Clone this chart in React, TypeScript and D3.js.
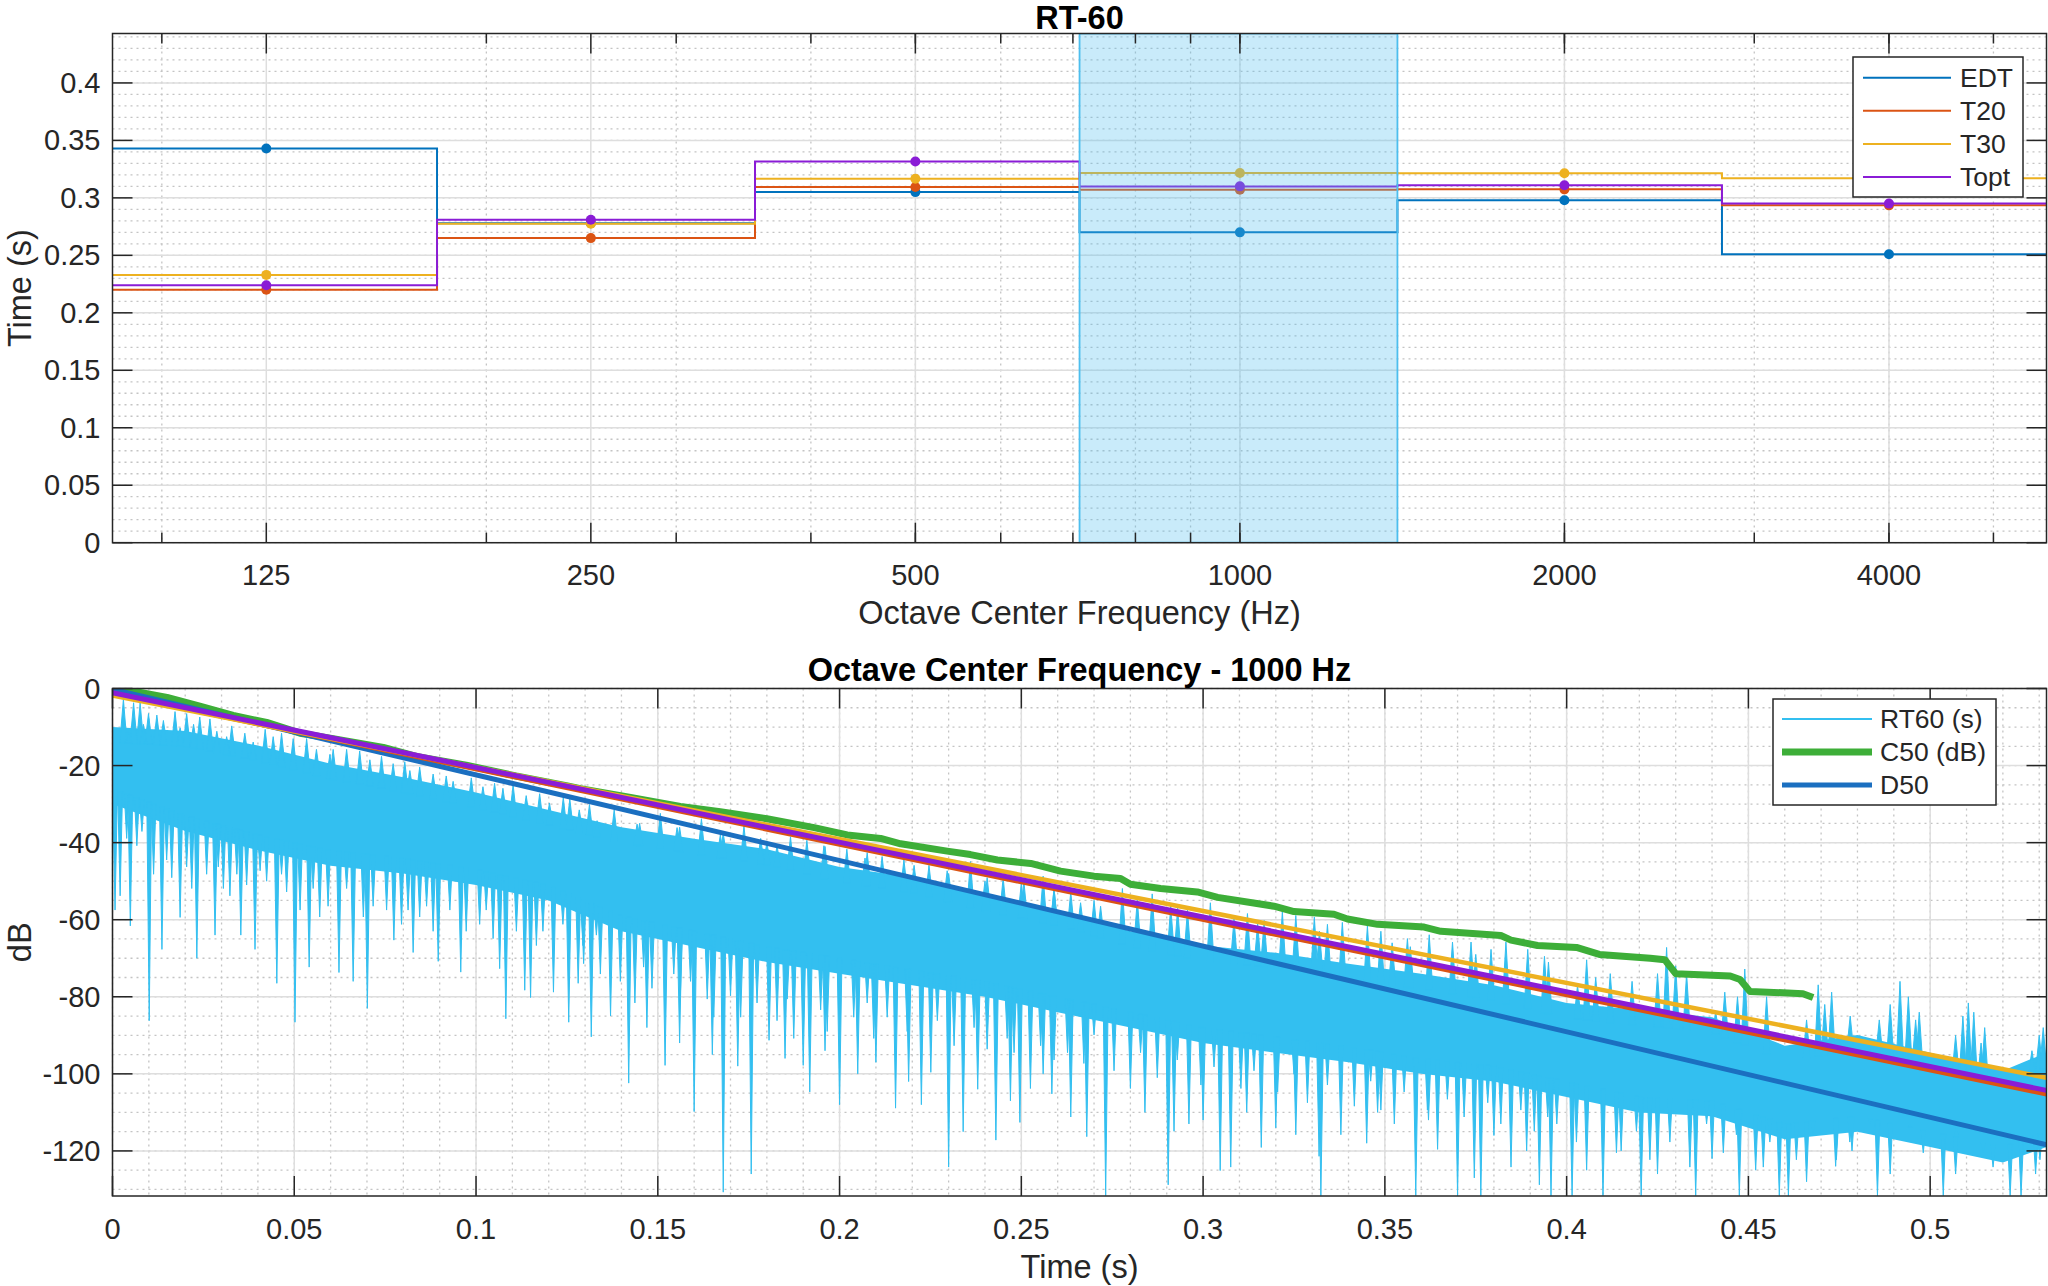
import * as d3 from 'd3';

const WIDTH = 2048;
const HEIGHT = 1286;
const FONT = '"Liberation Sans", Arial, Helvetica, sans-serif';
const INK = '#262626';
const GRID = '#dedede';
const MINOR = '#c4c4c4';

// ---- RT-60 per octave band (top chart)
const bandCenters = [125, 250, 500, 1000, 2000, 4000];
const bandEdges = [90, 180, 355, 710, 1400, 2800, 5600];
const bandLabels = ['125', '250', '500', '1000', '2000', '4000'];
const edtValues = [0.343, 0.278, 0.305, 0.27, 0.298, 0.251];
const t20Values = [0.22, 0.265, 0.3095, 0.307, 0.3074, 0.2935];
const t30Values = [0.233, 0.2775, 0.3167, 0.3217, 0.3214, 0.317];
const toptValues = [0.224, 0.281, 0.3316, 0.31, 0.311, 0.295];
const selectedBandIndex = 3; // 1000 Hz
const rtTicks = [0, 0.05, 0.1, 0.15, 0.2, 0.25, 0.3, 0.35, 0.4];
const freqMinor = [100, 200, 300, 400, 500, 600, 700, 800, 900, 1000, 2000, 3000, 4000, 5000];

// ---- Decay at 1000 Hz (bottom chart)
const timeTicks = [0, 0.05, 0.1, 0.15, 0.2, 0.25, 0.3, 0.35, 0.4, 0.45, 0.5];
const dbTicks = [0, -20, -40, -60, -80, -100, -120];

// dense part of the energy trace
const noiseEnvT = [0, 0.02, 0.04, 0.06, 0.08, 0.1, 0.12, 0.14, 0.16, 0.18, 0.2, 0.22, 0.24, 0.26, 0.28, 0.3, 0.32, 0.34, 0.36, 0.38, 0.4, 0.42, 0.44, 0.46, 0.48, 0.5, 0.52, 0.532];
const noiseTop = [-10, -11, -14.8, -19.5, -23, -27, -31.5, -36, -39, -41.7, -46.3, -49, -53.8, -57.5, -63, -66.7, -68.6, -71.4, -74, -77, -81.6, -83.4, -85.3, -92.7, -89.9, -94.5, -99.2, -94.5];
const noiseBottom = [-30, -37, -42, -46, -48, -51, -55, -63, -67, -71, -74, -77, -80, -84, -88, -92, -94.5, -97, -100, -102, -106, -110, -111, -117, -115, -119, -123, -119];

// upward spikes of the trace [t, dB]
const noisePeaks: [number, number][] = [
  [0.003, -2.8], [0.0058, -3.7], [0.0076, -3.7], [0.0099, -6.5], [0.0122, -6.9], [0.0172, -6], [0.0204, -6.5],
  [0.024, -7.4], [0.0268, -7.9], [0.0328, -9.7], [0.0364, -11.6], [0.042, -10.6], [0.0465, -11.6], [0.0534, -13],
  [0.0607, -15.8], [0.068, -16.2], [0.074, -17.6], [0.0804, -19], [0.0845, -20.4], [0.0918, -22.7], [0.0987, -23.2],
  [0.1051, -24.6], [0.1102, -25], [0.1175, -27.3], [0.124, -28.3], [0.1258, -28.7], [0.1312, -30.1], [0.138, -31.5],
  [0.145, -35], [0.1507, -32.4], [0.156, -36], [0.162, -33.8], [0.168, -37.5], [0.1737, -35.7], [0.18, -40],
  [0.1865, -38.5], [0.191, -39.4], [0.196, -41], [0.202, -41.7], [0.207, -44], [0.2117, -43.6], [0.2177, -44.5],
  [0.2246, -45.9], [0.23, -48], [0.236, -44.9], [0.24, -50], [0.245, -49.1], [0.25, -50.5], [0.256, -48.7],
  [0.259, -52], [0.2636, -52.8], [0.27, -55], [0.2778, -51.9], [0.286, -53.3], [0.293, -57], [0.302, -55.6],
  [0.3085, -59.8], [0.315, -61], [0.3218, -57.9], [0.3255, -58.9], [0.332, -63], [0.3383, -60.7], [0.3452, -61.6],
  [0.352, -66], [0.357, -67], [0.3622, -63.9], [0.3686, -65.8], [0.375, -69], [0.3833, -65.8], [0.3893, -67.7],
  [0.395, -71], [0.403, -77], [0.4055, -70.4], [0.408, -75], [0.412, -74], [0.418, -76], [0.425, -74], [0.4275, -67.2],
  [0.43, -72], [0.433, -74], [0.441, -84], [0.4435, -78.8], [0.447, -80], [0.449, -72.8], [0.455, -80], [0.466, -86],
  [0.4692, -76.9], [0.471, -82], [0.4729, -78.8], [0.478, -85], [0.486, -86], [0.489, -82], [0.4917, -76], [0.494, -80],
  [0.496, -86], [0.497, -84], [0.507, -90], [0.509, -85], [0.5105, -81.6], [0.512, -84], [0.514, -92], [0.515, -88],
  [0.528, -94], [0.53, -90], [0.5311, -88],
  [0.0044, -11.1], [0.0085, -9.3], [0.014, -8.3], [0.0186, -10.2], [0.0223, -9.3], [0.0287, -11.1], [0.0314, -12.5],
  [0.0387, -13.9], [0.0442, -12.5], [0.0497, -13], [0.0561, -15.8], [0.0598, -17.1], [0.0644, -15.8], [0.0708, -18.5],
  [0.0772, -19.5], [0.0818, -21.3], [0.0882, -22.2], [0.0937, -24.1], [0.1019, -25.5], [0.1074, -25.9], [0.1138, -27.8],
  [0.1202, -29.7], [0.1284, -31.5], [0.1333, -34.3], [0.1443, -35.2], [0.1553, -36.1], [0.1672, -38], [0.1783, -38.9],
  [0.1828, -40.8], [0.1957, -40.8], [0.2076, -42.6], [0.2205, -45.9], [0.2296, -47.3], [0.2406, -49.1], [0.2507, -50],
  [0.259, -51.9], [0.2663, -55.6], [0.2718, -56.5], [0.2819, -54.7], [0.2911, -56.5], [0.2957, -57.5], [0.3122, -58.4],
  [0.3168, -60.2], [0.3306, -59.3], [0.3342, -61.2], [0.3489, -63], [0.3562, -64.9], [0.3737, -65.8], [0.3792, -67.7],
  [0.3939, -69.5],
];

// downward spikes of the trace [t, dB]
const noiseDips: [number, number][] = [
  [0.0007, -57.5], [0.0049, -61.6], [0.0101, -86.2], [0.0136, -67.7], [0.0186, -59.4], [0.0232, -70], [0.0282, -64],
  [0.0353, -64], [0.0392, -67.7], [0.0452, -76.5], [0.0502, -86.6], [0.0541, -72.3], [0.0623, -73.7], [0.0662, -76],
  [0.0701, -83], [0.0774, -65.3], [0.0827, -68.5], [0.0896, -70.8], [0.0958, -73.6], [0.1065, -72.7], [0.1082, -85.7],
  [0.1134, -78.3], [0.115, -80.2], [0.1213, -78.8], [0.1255, -86.6], [0.1281, -76.5], [0.1317, -90.4], [0.137, -85],
  [0.142, -102.4], [0.1437, -81.6], [0.147, -88], [0.152, -97.8], [0.156, -92], [0.16, -109.8], [0.165, -95],
  [0.168, -130.7], [0.172, -98], [0.1757, -126], [0.1806, -91.3], [0.185, -96], [0.19, -97.8], [0.1918, -104.7],
  [0.196, -94], [0.2, -108], [0.205, -100], [0.21, -97], [0.2154, -108.9], [0.219, -102], [0.2225, -108],
  [0.2251, -99.6], [0.23, -124.2], [0.234, -115], [0.238, -104], [0.243, -117.2], [0.247, -107], [0.2496, -112.6],
  [0.2525, -103.8], [0.256, -100], [0.2584, -105.2], [0.2636, -111.2], [0.268, -116.3], [0.2732, -131.6], [0.28, -103.8],
  [0.284, -110], [0.2904, -128.8], [0.292, -114.9], [0.2961, -113], [0.3, -112], [0.3047, -125.1], [0.3076, -124.2],
  [0.312, -110], [0.316, -119.1], [0.32, -114], [0.3255, -115.8], [0.3319, -121.4], [0.3324, -131.6], [0.3379, -115.8],
  [0.345, -118], [0.348, -110], [0.3526, -113], [0.3585, -131.6], [0.362, -112], [0.3645, -119.6], [0.37, -131.6],
  [0.3746, -127], [0.3764, -131.6], [0.38, -116], [0.3847, -124.2], [0.389, -120], [0.3925, -128.8], [0.3957, -131.6],
  [0.4015, -131.6], [0.4055, -125], [0.41, -131.6], [0.415, -120], [0.4205, -131.6], [0.425, -126], [0.4355, -131.6],
  [0.44, -122], [0.4475, -131.6], [0.452, -125], [0.4585, -131.6], [0.461, -131.6], [0.466, -128], [0.474, -124],
  [0.4785, -120], [0.4855, -131.6], [0.489, -126], [0.5036, -131.6], [0.507, -126], [0.522, -131.6], [0.525, -131.6],
  [0.529, -126],
  [0.0021, -53.8], [0.0039, -38.9], [0.0067, -40.8], [0.0081, -37.1], [0.0113, -48.2], [0.0149, -44.5], [0.0163, -49.1],
  [0.0204, -46.3], [0.0218, -51.9], [0.0259, -48.2], [0.0291, -46.3], [0.0305, -51.9], [0.0323, -53.8], [0.0342, -48.2],
  [0.0369, -51], [0.0406, -47.3], [0.0424, -50], [0.0465, -48.2], [0.0479, -52.8], [0.0516, -57.5], [0.0552, -51.9],
  [0.057, -59.3], [0.0593, -56.5], [0.0644, -51.9], [0.069, -59.3], [0.0717, -56.5], [0.0754, -57.5], [0.0795, -61.2],
  [0.0813, -57.5], [0.0845, -59.3], [0.0864, -56.5], [0.0882, -63], [0.0928, -57.5], [0.0973, -63], [0.101, -61.2],
  [0.1028, -57.5], [0.1047, -64.9], [0.1111, -63], [0.1166, -66.7], [0.1184, -63], [0.1239, -61.2], [0.1294, -66.7],
  [0.1331, -64], [0.1296, -71.4], [0.1342, -74.1], [0.137, -69.5], [0.1397, -76], [0.1461, -72.3], [0.1484, -77.8],
  [0.1544, -74.1], [0.1562, -79.7], [0.159, -76], [0.1636, -80.6], [0.1654, -85.3], [0.17, -79.7], [0.1728, -85.3],
  [0.1773, -81.6], [0.1828, -86.2], [0.1856, -80.6], [0.1874, -90.8], [0.1948, -83.4], [0.1966, -89], [0.2039, -85.3],
  [0.2076, -81.6], [0.2094, -90.8], [0.2131, -85.3], [0.2186, -89], [0.2269, -86.2], [0.2315, -92.7], [0.237, -88],
  [0.2406, -93.6], [0.2461, -90.8], [0.248, -94.5], [0.2553, -92.7], [0.259, -96.4], [0.2627, -94.5], [0.2636, -94.5],
  [0.2672, -97.3], [0.27, -89.9], [0.2755, -99.2], [0.2828, -94.5], [0.2874, -101], [0.2929, -96.4], [0.2994, -102.9],
  [0.303, -98.2], [0.3104, -103.8], [0.314, -99.2], [0.3205, -104.7], [0.325, -100.1], [0.3287, -107.5], [0.3342, -102.9],
  [0.3416, -108.4], [0.3461, -101.9], [0.3489, -109.4], [0.3553, -104.7], [0.3617, -109.4], [0.3672, -106.6],
  [0.3718, -111.2], [0.3783, -107.5], [0.3819, -113], [0.3874, -109.4], [0.3911, -114.9], [0.3948, -111.2],
  [0.3973, -113], [0.4027, -117.7], [0.4101, -113], [0.4137, -120.5], [0.4192, -114.9], [0.4229, -122.3], [0.4284, -117.7],
  [0.4339, -124.2], [0.4385, -113], [0.4431, -120.5], [0.4467, -115.8], [0.4541, -124.2], [0.4559, -117.7],
  [0.4632, -122.3], [0.4678, -115.8], [0.4742, -122.3], [0.4779, -117.7], [0.4834, -113], [0.4944, -113], [0.4981, -120.5],
  [0.5072, -113], [0.5146, -120.5], [0.5173, -124.2], [0.5265, -117.7], [0.5302, -122.3],
];

// Schroeder-style C50 curve
const c50T = [0, 0.0058, 0.015, 0.024, 0.0332, 0.0424, 0.0516, 0.0607, 0.0745, 0.0836, 0.0973, 0.111, 0.1248, 0.1287, 0.1425, 0.1562, 0.1672, 0.18, 0.193, 0.2021, 0.2113, 0.2168, 0.2296, 0.236, 0.2434, 0.2526, 0.2608, 0.27, 0.2773, 0.28, 0.2883, 0.2984, 0.304, 0.3195, 0.325, 0.336, 0.3397, 0.348, 0.3608, 0.3654, 0.3819, 0.3847, 0.392, 0.4027, 0.409, 0.423, 0.427, 0.43, 0.445, 0.4477, 0.4504, 0.465, 0.4678];
const c50Db = [0, -0.7, -2.3, -4.6, -7, -8.8, -11.6, -13, -15.3, -17.6, -19.9, -22.7, -25.2, -26, -28.3, -30.6, -32, -33.8, -36.1, -38, -38.9, -40.3, -42.2, -43.1, -44.5, -45.4, -47.4, -48.7, -49.3, -50.8, -51.9, -52.8, -54.2, -56.5, -57.9, -58.6, -59.8, -61.2, -61.9, -63, -64.1, -65.3, -66.7, -67.2, -69, -70, -70.4, -74, -74.6, -75.5, -78.6, -79.2, -80.2];

// fitted decay lines (end points)
const fitT = [0, 0.532];
const d50Fit = [-0.2, -118.4];
const t20Fit = [-1.4, -105.3];
const t30Fit = [-1.8, -101];
const toptFit = [-1.1, -104.3];

const COLORS = {
  edt: '#0072BD',
  t20: '#DB5414',
  t30: '#EDB120',
  topt: '#8A1CD6',
  noise: '#33BFF0',
  c50: '#3DAE38',
  d50: '#1B6FC0',
  band: '#4DBEEE',
};

const TOP = { left: 112.5, right: 2046.5, top: 33.5, bottom: 542.7 };
const BOT = { left: 112.5, right: 2046.5, top: 688.5, bottom: 1196 };
const MAJOR_LEN = 20;
const MINOR_LEN = 10;

const xTop = d3.scaleLog().domain([bandEdges[0], bandEdges[bandEdges.length - 1]]).range([TOP.left, TOP.right]);
const yTop = d3.scaleLinear().domain([0, 0.443]).range([TOP.bottom, TOP.top]);
const xBot = d3.scaleLinear().domain([0, 0.532]).range([BOT.left, BOT.right]);
const yBot = d3.scaleLinear().domain([-131.7, 0]).range([BOT.bottom, BOT.top]);

const fmt = (v: number) => String(+v.toFixed(2));

function stairsPath(values: number[]) {
  // one flat run per octave band, risers on the band edges
  const pts = bandEdges.map((e, i) => [e, values[Math.min(i, values.length - 1)]] as [number, number]);
  return d3.line<[number, number]>()
    .x(d => xTop(d[0]))
    .y(d => yTop(d[1]))
    .curve(d3.curveStepAfter)(pts) ?? '';
}

function fitPath(values: number[]) {
  return d3.line<number>()
    .x((_, i) => xBot(fitT[i]))
    .y(d => yBot(d))(values) ?? '';
}

export default function App() {
  const topSeries = [
    { name: 'EDT', values: edtValues, color: COLORS.edt },
    { name: 'T20', values: t20Values, color: COLORS.t20 },
    { name: 'T30', values: t30Values, color: COLORS.t30 },
    { name: 'Topt', values: toptValues, color: COLORS.topt },
  ];

  const bandLo = bandEdges[selectedBandIndex];
  const bandHi = bandEdges[selectedBandIndex + 1];

  const minorRt = d3.range(0, 0.4431, 0.01);
  const minorTime = d3.range(0, 0.5321, 0.01);
  const minorDb = d3.range(0, -131.7, -5);

  // energy trace
  const envTop = d3.scaleLinear().domain(noiseEnvT).range(noiseTop);
  const envBottom = d3.scaleLinear().domain(noiseEnvT).range(noiseBottom);
  const bodyPath = d3.area<number>()
    .x((_, i) => xBot(noiseEnvT[i]))
    .y0((_, i) => yBot(noiseBottom[i]))
    .y1(d => yBot(d))(noiseTop) ?? '';
  const spike = (t: number, tip: number, base: number, hw: number) => {
    const x = xBot(t);
    return `M${x - hw},${yBot(base)}L${x},${yBot(tip)}L${x + hw},${yBot(base)}Z`;
  };
  const spikesPath =
    noisePeaks.map(([t, v]) => spike(t, v, envTop(t) - 4, 3.6)).join('') +
    noiseDips.map(([t, v]) => spike(t, v, envBottom(t) + 4, 2.4)).join('');

  const c50Path = d3.line<number>()
    .x((_, i) => xBot(c50T[i]))
    .y(d => yBot(d))(c50Db) ?? '';

  const topCx = (TOP.left + TOP.right) / 2;
  const topCy = (TOP.top + TOP.bottom) / 2;
  const botCy = (BOT.top + BOT.bottom) / 2;

  return (
    <svg
      width={WIDTH}
      height={HEIGHT}
      style={{ position: 'absolute', left: 0, top: 0, background: '#fff' }}
      fontFamily={FONT}
    >
      <defs>
        <clipPath id="clipTop">
          <rect x={TOP.left} y={TOP.top} width={TOP.right - TOP.left} height={TOP.bottom - TOP.top} />
        </clipPath>
        <clipPath id="clipBot">
          <rect x={BOT.left} y={BOT.top} width={BOT.right - BOT.left} height={BOT.bottom - BOT.top} />
        </clipPath>
      </defs>
      <rect width={WIDTH} height={HEIGHT} fill="#fff" />

      {/* ================= RT-60 ================= */}
      <g>
        {freqMinor.map(f => (
          <line key={'fm' + f} x1={xTop(f)} x2={xTop(f)} y1={TOP.top} y2={TOP.bottom}
            stroke={MINOR} strokeWidth={1.3} strokeDasharray="2 4" />
        ))}
        {minorRt.map(v => (
          <line key={'rm' + v} x1={TOP.left} x2={TOP.right} y1={yTop(v)} y2={yTop(v)}
            stroke={MINOR} strokeWidth={1.3} strokeDasharray="2 4" />
        ))}
        {bandCenters.map(f => (
          <line key={'fg' + f} x1={xTop(f)} x2={xTop(f)} y1={TOP.top} y2={TOP.bottom} stroke={GRID} strokeWidth={1.5} />
        ))}
        {rtTicks.map(v => (
          <line key={'rg' + v} x1={TOP.left} x2={TOP.right} y1={yTop(v)} y2={yTop(v)} stroke={GRID} strokeWidth={1.5} />
        ))}

        <g clipPath="url(#clipTop)">
          {topSeries.map(s => (
            <g key={s.name}>
              <path d={stairsPath(s.values)} fill="none" stroke={s.color} strokeWidth={2} />
              {s.values.map((v, i) => (
                <circle key={i} cx={xTop(bandCenters[i])} cy={yTop(v)} r={5} fill={s.color} />
              ))}
            </g>
          ))}
          <rect
            x={xTop(bandLo)}
            y={TOP.top}
            width={xTop(bandHi) - xTop(bandLo)}
            height={TOP.bottom - TOP.top}
            fill={COLORS.band}
            fillOpacity={0.3}
            stroke={COLORS.band}
            strokeWidth={1.8}
          />
        </g>

        <rect x={TOP.left} y={TOP.top} width={TOP.right - TOP.left} height={TOP.bottom - TOP.top}
          fill="none" stroke={INK} strokeWidth={1.5} />
        {freqMinor.map(f => (
          <g key={'ftm' + f} stroke={INK} strokeWidth={1.5}>
            <line x1={xTop(f)} x2={xTop(f)} y1={TOP.bottom} y2={TOP.bottom - MINOR_LEN} />
            <line x1={xTop(f)} x2={xTop(f)} y1={TOP.top} y2={TOP.top + MINOR_LEN} />
          </g>
        ))}
        {bandCenters.map(f => (
          <g key={'ft' + f} stroke={INK} strokeWidth={1.5}>
            <line x1={xTop(f)} x2={xTop(f)} y1={TOP.bottom} y2={TOP.bottom - MAJOR_LEN} />
            <line x1={xTop(f)} x2={xTop(f)} y1={TOP.top} y2={TOP.top + MAJOR_LEN} />
          </g>
        ))}
        {rtTicks.map(v => (
          <g key={'rt' + v} stroke={INK} strokeWidth={1.5}>
            <line x1={TOP.left} x2={TOP.left + MAJOR_LEN} y1={yTop(v)} y2={yTop(v)} />
            <line x1={TOP.right} x2={TOP.right - MAJOR_LEN} y1={yTop(v)} y2={yTop(v)} />
          </g>
        ))}

        {bandCenters.map((f, i) => (
          <text key={'fl' + f} x={xTop(f)} y={575} textAnchor="middle" dominantBaseline="central"
            fontSize={29} fill={INK}>{bandLabels[i]}</text>
        ))}
        {rtTicks.map(v => (
          <text key={'rl' + v} x={TOP.left - 12} y={yTop(v)} textAnchor="end" dominantBaseline="central"
            fontSize={29} fill={INK}>{fmt(v)}</text>
        ))}

        <text x={topCx} y={18} textAnchor="middle" dominantBaseline="central" fontSize={32.5}
          fontWeight="bold" fill="#000">RT-60</text>
        <text x={topCx} y={613} textAnchor="middle" dominantBaseline="central" fontSize={32.5}
          fill={INK}>Octave Center Frequency (Hz)</text>
        <text x={20} y={topCy} textAnchor="middle" dominantBaseline="central" fontSize={32.5} fill={INK}
          transform={`rotate(-90 20 ${topCy})`}>Time (s)</text>

        <rect x={1853} y={57} width={170} height={140} fill="#fff" stroke={INK} strokeWidth={1.5} />
        {topSeries.map((s, i) => {
          const y = 77.7 + i * 33.1;
          return (
            <g key={'lg' + s.name}>
              <line x1={1863} x2={1951} y1={y} y2={y} stroke={s.color} strokeWidth={2} />
              <text x={1960} y={y} dominantBaseline="central" fontSize={26.5} fill={INK}>{s.name}</text>
            </g>
          );
        })}
      </g>

      {/* ================= Decay at 1000 Hz ================= */}
      <g>
        {minorTime.map(t => (
          <line key={'tm' + t} x1={xBot(t)} x2={xBot(t)} y1={BOT.top} y2={BOT.bottom}
            stroke={MINOR} strokeWidth={1.3} strokeDasharray="2 4" />
        ))}
        {minorDb.map(v => (
          <line key={'dm' + v} x1={BOT.left} x2={BOT.right} y1={yBot(v)} y2={yBot(v)}
            stroke={MINOR} strokeWidth={1.3} strokeDasharray="2 4" />
        ))}
        {timeTicks.map(t => (
          <line key={'tg' + t} x1={xBot(t)} x2={xBot(t)} y1={BOT.top} y2={BOT.bottom} stroke={GRID} strokeWidth={1.5} />
        ))}
        {dbTicks.map(v => (
          <line key={'dg' + v} x1={BOT.left} x2={BOT.right} y1={yBot(v)} y2={yBot(v)} stroke={GRID} strokeWidth={1.5} />
        ))}

        <g clipPath="url(#clipBot)">
          <path d={bodyPath} fill={COLORS.noise} />
          <path d={spikesPath} fill={COLORS.noise} stroke={COLORS.noise} strokeWidth={1} strokeLinejoin="round" />
          <path d={c50Path} fill="none" stroke={COLORS.c50} strokeWidth={7} strokeLinejoin="round" />
          <path d={fitPath(d50Fit)} fill="none" stroke={COLORS.d50} strokeWidth={5} />
          <path d={fitPath(t20Fit)} fill="none" stroke={COLORS.t20} strokeWidth={4.5} />
          <path d={fitPath(t30Fit)} fill="none" stroke={COLORS.t30} strokeWidth={4.5} />
          <path d={fitPath(toptFit)} fill="none" stroke={COLORS.topt} strokeWidth={5} />
        </g>

        <rect x={BOT.left} y={BOT.top} width={BOT.right - BOT.left} height={BOT.bottom - BOT.top}
          fill="none" stroke={INK} strokeWidth={1.5} />
        {timeTicks.map(t => (
          <g key={'tt' + t} stroke={INK} strokeWidth={1.5}>
            <line x1={xBot(t)} x2={xBot(t)} y1={BOT.bottom} y2={BOT.bottom - MAJOR_LEN} />
            <line x1={xBot(t)} x2={xBot(t)} y1={BOT.top} y2={BOT.top + MAJOR_LEN} />
          </g>
        ))}
        {dbTicks.map(v => (
          <g key={'dt' + v} stroke={INK} strokeWidth={1.5}>
            <line x1={BOT.left} x2={BOT.left + MAJOR_LEN} y1={yBot(v)} y2={yBot(v)} />
            <line x1={BOT.right} x2={BOT.right - MAJOR_LEN} y1={yBot(v)} y2={yBot(v)} />
          </g>
        ))}

        {timeTicks.map(t => (
          <text key={'tl' + t} x={xBot(t)} y={1229} textAnchor="middle" dominantBaseline="central"
            fontSize={29} fill={INK}>{fmt(t)}</text>
        ))}
        {dbTicks.map(v => (
          <text key={'dl' + v} x={BOT.left - 12} y={yBot(v)} textAnchor="end" dominantBaseline="central"
            fontSize={29} fill={INK}>{String(v)}</text>
        ))}

        <text x={topCx} y={670} textAnchor="middle" dominantBaseline="central" fontSize={32.5}
          fontWeight="bold" fill="#000">Octave Center Frequency - 1000 Hz</text>
        <text x={topCx} y={1267} textAnchor="middle" dominantBaseline="central" fontSize={32.5}
          fill={INK}>Time (s)</text>
        <text x={20} y={botCy} textAnchor="middle" dominantBaseline="central" fontSize={32.5} fill={INK}
          transform={`rotate(-90 20 ${botCy})`}>dB</text>

        <rect x={1773} y={699} width={223} height={106} fill="#fff" stroke={INK} strokeWidth={1.5} />
        {[
          { name: 'RT60 (s)', color: COLORS.noise, w: 1.8 },
          { name: 'C50 (dB)', color: COLORS.c50, w: 7 },
          { name: 'D50', color: COLORS.d50, w: 5 },
        ].map((s, i) => {
          const y = 719 + i * 33;
          return (
            <g key={'lb' + s.name}>
              <line x1={1782} x2={1872} y1={y} y2={y} stroke={s.color} strokeWidth={s.w} />
              <text x={1880} y={y} dominantBaseline="central" fontSize={26.5} fill={INK}>{s.name}</text>
            </g>
          );
        })}
      </g>
    </svg>
  );
}
